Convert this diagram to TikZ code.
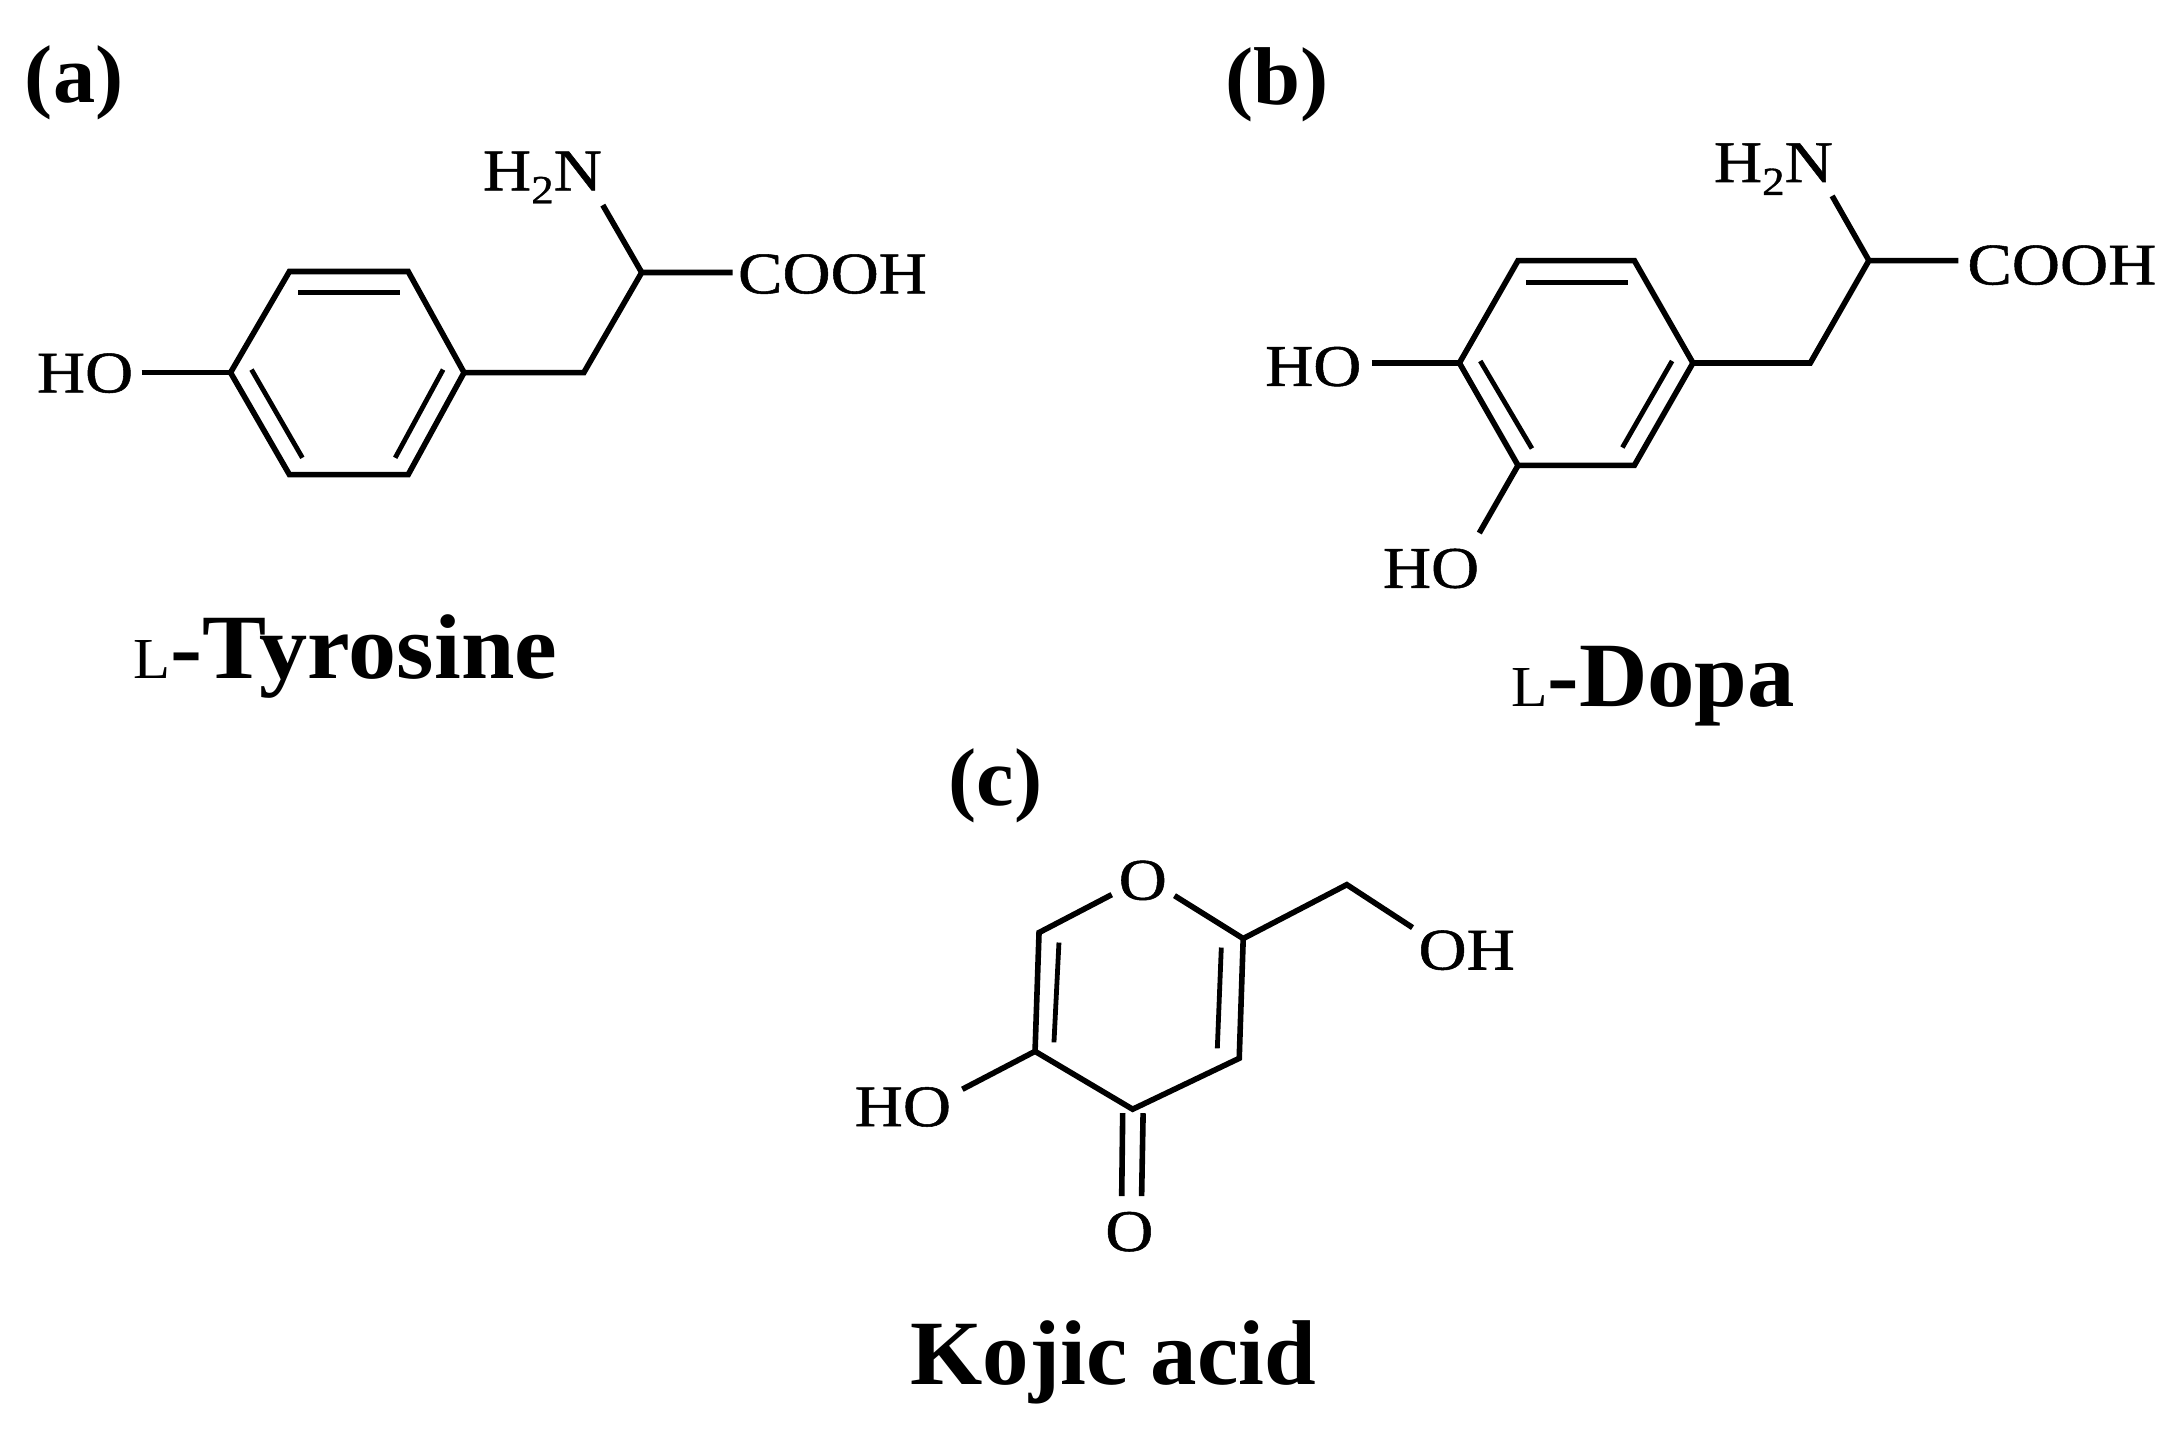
\documentclass[tikz,border=0pt]{standalone}
\usepackage{fontspec}
\setmainfont{Liberation Serif}
\newfontfamily\atomfont[FakeStretch=1.13,FakeBold=0.9]{Liberation Serif}
\newfontfamily\headfont[FakeStretch=1.03,BoldFont={Liberation Serif Bold}]{Liberation Serif}
\newcommand{\atomtxt}{\atomfont\fontsize{29.5}{32}\selectfont}
\newcommand{\sub}[1]{\raisebox{-6.5pt}{\fontsize{20}{22}\selectfont #1}}
\newcommand{\tagtxt}{\headfont\bfseries\fontsize{41}{44}\selectfont}
\newcommand{\nametxt}{\bfseries\fontsize{46}{50}\selectfont}
\newcommand{\smallL}{{\mdseries\fontsize{29}{30}\selectfont L}}
\tikzset{
  bond/.style={line width=2.8pt,line cap=butt,line join=miter,black},
  inner bond/.style={line width=2.4pt,line cap=butt,black},
  atom/.style={anchor=base west,inner sep=0pt,outer sep=0pt,font=\atomtxt,text=black},
  tagl/.style={anchor=base west,inner sep=0pt,outer sep=0pt,font=\tagtxt,text=black},
  cname/.style={anchor=base west,inner sep=0pt,outer sep=0pt,font=\nametxt,text=black}
}
\begin{document}
\begin{tikzpicture}[x=0.5pt,y=-0.5pt]
\fill[white] (0,0) rectangle (2182,1444);
\useasboundingbox (0,0) rectangle (2182,1444);

% ---- (a) L-Tyrosine
\begin{scope}[xscale=.998,yscale=.991]
\node[tagl] (taga) at (25,103) {(a)};
\node[cname] (namea) at (134,685) {\scalebox{1.045}[1]{\smallL-Tyrosine}};
\node[atom] (hoa) at (37,396) {HO};
\node[atom] (nha) at (484,192) {H\sub{2}N};
\node[atom] (cooha) at (739.5,296) {COOH};
\coordinate (a1) at (231,376);
\coordinate (a2) at (290,274);
\coordinate (a3) at (409,274);
\coordinate (a4) at (465,376);
\coordinate (a5) at (409,479);
\coordinate (a6) at (290,479);
\coordinate (a7) at (585,376);
\coordinate (a8) at (643,275);
\coordinate (aho) at (142,376);
\coordinate (anh) at (604,207);
\coordinate (acooh) at (734,275);
\coordinate (ai1) at (299,295);
\coordinate (ai2) at (401,295);
\coordinate (ai3) at (252,373);
\coordinate (ai4) at (303,462);
\coordinate (ai5) at (444,373);
\coordinate (ai6) at (396,462);
\draw[bond] (a1) -- (a2) -- (a3) -- (a4) -- (a5) -- (a6) -- cycle;
\draw[inner bond] (ai1) -- (ai2);
\draw[inner bond] (ai3) -- (ai4);
\draw[inner bond] (ai5) -- (ai6);
\draw[bond] (aho) -- (a1);
\draw[bond] (a4) -- (a7) -- (a8) -- (acooh);
\draw[bond] (anh) -- (a8);
\end{scope}

% ---- (b) L-Dopa
\begin{scope}[shift={(1200,0)},xscale=.994,yscale=.9945,shift={(-1200,0)}]
\node[tagl] (tagb) at (1226,105) {(b)};
\node[cname] (nameb) at (1513,710) {\scalebox{1.03}[1]{\smallL-Dopa}};
\node[atom] (hob) at (1265.5,388) {HO};
\node[atom] (hoc) at (1384,591) {HO};
\node[atom] (nhb) at (1717,183) {H\sub{2}N};
\node[atom] (coohb) at (1972,286) {COOH};
\coordinate (b1) at (1461,365);
\coordinate (b2) at (1520,262);
\coordinate (b3) at (1637,262);
\coordinate (b4) at (1696,365);
\coordinate (b5) at (1637,468);
\coordinate (b6) at (1520,468);
\coordinate (b7) at (1814,365);
\coordinate (b8) at (1873,262);
\coordinate (bho) at (1373,365);
\coordinate (bho2) at (1481,536);
\coordinate (bnh) at (1836,197);
\coordinate (bcooh) at (1963,262);
\coordinate (bi1) at (1528,284);
\coordinate (bi2) at (1631,284);
\coordinate (bi3) at (1482,363);
\coordinate (bi4) at (1534,451);
\coordinate (bi5) at (1675,363);
\coordinate (bi6) at (1625,450);
\draw[bond] (b1) -- (b2) -- (b3) -- (b4) -- (b5) -- (b6) -- cycle;
\draw[inner bond] (bi1) -- (bi2);
\draw[inner bond] (bi3) -- (bi4);
\draw[inner bond] (bi5) -- (bi6);
\draw[bond] (bho) -- (b1);
\draw[bond] (bho2) -- (b6);
\draw[bond] (b4) -- (b7) -- (b8) -- (bcooh);
\draw[bond] (bnh) -- (b8);
\end{scope}

% ---- (c) Kojic acid
\begin{scope}[shift={(800,720)},xscale=.996,yscale=.998,shift={(-800,-720)}]
\node[tagl] (tagc) at (949,806) {(c)};
\node[cname] (namec) at (911,1386) {\scalebox{1.01}[1]{Kojic acid}};
\node[atom] (oring) at (1120,900) {O};
\node[atom] (ohc) at (1421,970) {OH};
\node[atom] (hok) at (855,1127) {HO};
\node[atom] (ok) at (1106.5,1252) {O};
\coordinate (c1) at (1040,933);
\coordinate (c2) at (1036,1052);
\coordinate (c3) at (1134,1110);
\coordinate (c4) at (1241,1059);
\coordinate (c5) at (1245,939);
\coordinate (co1) at (1113,895);
\coordinate (co2) at (1176,896);
\coordinate (c6) at (1349,885);
\coordinate (coh) at (1415,928);
\coordinate (cho) at (963,1090);
\coordinate (ci1) at (1060,943);
\coordinate (ci2) at (1055,1043);
\coordinate (ci3) at (1223,948);
\coordinate (ci4) at (1219,1049);
\coordinate (cd1) at (1124,1114);
\coordinate (cd2) at (1123,1197);
\coordinate (cd3) at (1144.5,1114);
\coordinate (cd4) at (1143,1197);
\draw[bond] (co1) -- (c1) -- (c2) -- (c3) -- (c4) -- (c5) -- (co2);
\draw[inner bond] (ci1) -- (ci2);
\draw[inner bond] (ci3) -- (ci4);
\draw[bond] (c5) -- (c6) -- (coh);
\draw[bond] (cho) -- (c2);
\draw[bond] (cd1) -- (cd2);
\draw[bond] (cd3) -- (cd4);
\end{scope}
\end{tikzpicture}
\end{document}
